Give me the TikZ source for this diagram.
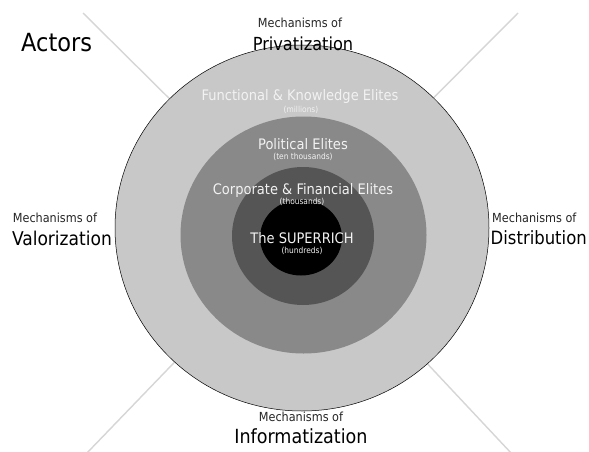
\documentclass[tikz,border=0pt]{standalone}
\usepackage{fontspec}
\setmainfont{DejaVu Sans Condensed}
\definecolor{ringA}{HTML}{C8C8C8}
\definecolor{ringB}{HTML}{898989}
\definecolor{ringC}{HTML}{555555}
\definecolor{diagc}{HTML}{D6D6D6}
\definecolor{labw}{HTML}{F2F2F2}
\tikzset{
  diag/.style={draw=diagc, line width=1.4pt},
  mech/.style={inner sep=0pt, font=\fontsize{12.5}{13}\selectfont, text=black!85},
  big/.style={inner sep=0pt, font=\fontsize{19}{20}\selectfont},
  elite/.style={inner sep=0pt, text=labw, font=\fontsize{14.5}{15}\selectfont},
  count/.style={inner sep=0pt, text=labw, font=\fontsize{8.3}{9}\selectfont},
}
\begin{document}
\begin{tikzpicture}[x=1pt,y=-1pt]
\useasboundingbox (0,0) rectangle (589,452);
\fill[white] (0,0) rectangle (589,452);
\coordinate (ctr) at (302,230);
\coordinate (tl) at (83,13);
\coordinate (tr) at (518,13);
\coordinate (bl) at (86,454);
\coordinate (br) at (512,454);
\draw[diag] (ctr) -- (tl);
\draw[diag] (ctr) -- (tr);
\draw[diag] (ctr) -- (bl);
\draw[diag] (ctr) -- (br);
\filldraw[fill=ringA, draw=black, line width=0.5pt] (302,228) ellipse [x radius=187pt, y radius=183pt];
\fill[ringB] (303.5,235) ellipse [x radius=123pt, y radius=118.5pt];
\fill[ringC] (303,236) ellipse [x radius=71pt, y radius=69pt];
\fill[black] (301,237.5) ellipse [x radius=41pt, y radius=38pt];

\node[inner sep=0pt, font=\fontsize{25}{26}\selectfont, anchor=west] (actors) at (21,43) {Actors};

\node[mech] (m1) at (300,23) {Mechanisms of};
\node[big, font=\fontsize{18}{19}\selectfont] (privat) at (303,44) {Privatization};
\node[mech] (m2) at (55,218) {Mechanisms of};
\node[big] (valor) at (62,238) {Valorization};
\node[mech, anchor=west] (m3) at (492,218) {Mechanisms of};
\node[big, anchor=west, font=\fontsize{18.3}{19}\selectfont] (distr) at (490.5,238) {Distribution};
\node[mech] (m4) at (301,417) {Mechanisms of};
\node[big, font=\fontsize{19.5}{20}\selectfont] (inform) at (301,436) {Informatization};

\node[elite] (fk) at (300,96) {Functional \& Knowledge Elites};
\node[count] (fkn) at (301,110) {(millions)};
\node[elite] (pol) at (303,144) {Political Elites};
\node[count] (poln) at (303,157) {(ten thousands)};
\node[elite] (cf) at (303,190) {Corporate \& Financial Elites};
\node[count] (cfn) at (302,202) {(thousands)};
\node[elite] (sr) at (302,238) {The SUPERRICH};
\node[count] (srn) at (302,251) {(hundreds)};
\end{tikzpicture}
\end{document}
